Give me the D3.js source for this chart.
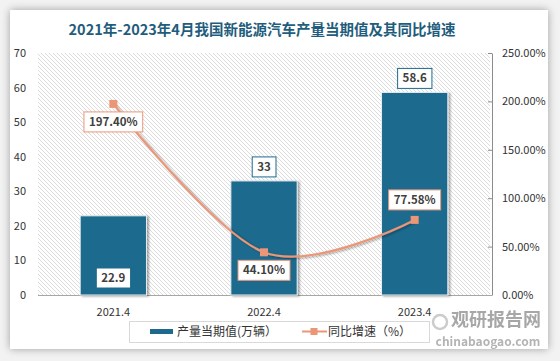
<!DOCTYPE html>
<html>
<head>
<meta charset="utf-8">
<script src="https://cdn.jsdelivr.net/npm/d3@7"></script>
<style>
  body { margin: 0; background: #fff; }
  svg { display: block; }
</style>
</head>
<body>
<svg id="main-svg" width="560" height="361"></svg>
<script>
// ----- //
// data
// ----- //
const categories = ["2021.4", "2022.4", "2023.4"];
const production = [22.9, 33, 58.6];      // 产量当期值(万辆)
const growth = [197.40, 44.10, 77.58];    // 同比增速(%)
const leftTicks = [0, 10, 20, 30, 40, 50, 60, 70];
const rightTicks = [0, 50, 100, 150, 200, 250];
const barLabelPlace = ["inside", "above", "above"];
const lineLabelPlace = ["below", "below", "above"];

const title = "2021年-2023年4月我国新能源汽车产量当期值及其同比增速";

// ----- //
// setup
// ----- //
const svg = d3.select("#main-svg");
const font = "'Noto Sans CJK SC', 'Noto Sans', sans-serif";
const barColor = "#1c6a8e";
const lineColor = "#eb9677";

const plot = { left: 38, right: 490, top: 53, bottom: 295 };

// card with soft shadow
const defs = svg.append("defs");
const shadow = defs.append("filter").attr("id", "shadow")
    .attr("x", "-5%").attr("y", "-5%").attr("width", "110%").attr("height", "110%");
shadow.append("feGaussianBlur").attr("in", "SourceAlpha").attr("stdDeviation", 4);
shadow.append("feComponentTransfer").append("feFuncA").attr("type", "linear").attr("slope", 0.35);
const merge = shadow.append("feMerge");
merge.append("feMergeNode");
merge.append("feMergeNode").attr("in", "SourceGraphic");

// hatch pattern for plot background
const hatch = defs.append("pattern").attr("id", "hatch")
    .attr("patternUnits", "userSpaceOnUse")
    .attr("width", 4).attr("height", 4);
hatch.append("rect").attr("width", 4).attr("height", 4).attr("fill", "#ffffff");
hatch.append("path")
    .attr("d", "M-1,-1 L5,5 M-1,3 L1,5 M3,-1 L5,1")
    .attr("stroke", "#dcdcdc").attr("stroke-width", 1);

// bar shadow
const barShadow = defs.append("filter").attr("id", "barShadow")
    .attr("x", "-10%").attr("y", "-10%").attr("width", "125%").attr("height", "120%");
barShadow.append("feDropShadow").attr("dx", 2).attr("dy", 1).attr("stdDeviation", 1.2)
    .attr("flood-color", "#000").attr("flood-opacity", 0.35);

svg.append("rect").attr("width", 560).attr("height", 361).attr("fill", "#f2f2f2");
svg.append("rect")
    .attr("x", 10).attr("y", 10).attr("width", 538).attr("height", 339)
    .attr("fill", "#fff").attr("filter", "url(#shadow)");

// title
svg.append("text")
    .attr("x", 262).attr("y", 35)
    .attr("text-anchor", "middle")
    .attr("font-family", font).attr("font-size", 14.5).attr("font-weight", "bold")
    .attr("fill", "#1f5d7c")
    .text(title);

// ----- //
// scales
// ----- //
const x = d3.scaleBand().domain(categories)
    .range([plot.left, plot.right]).paddingInner(0.56).paddingOuter(0.28);
const yL = d3.scaleLinear().domain([0, 70]).range([plot.bottom, plot.top]);
const yR = d3.scaleLinear().domain([0, 250]).range([plot.bottom, plot.top]);

// plot background
svg.append("rect")
    .attr("x", plot.left).attr("y", plot.top)
    .attr("width", plot.right - plot.left).attr("height", plot.bottom - plot.top)
    .attr("fill", "url(#hatch)");

// ----- //
// axes
// ----- //
const gL = svg.append("g").attr("transform", `translate(${plot.left - 12},0)`)
    .call(d3.axisLeft(yL).tickValues(leftTicks).tickSize(0).tickPadding(0));
gL.select(".domain").remove();
gL.selectAll("text").attr("font-family", font).attr("font-size", 11).attr("fill", "#333");

const gR = svg.append("g").attr("transform", `translate(${plot.right + 2},0)`)
    .call(d3.axisRight(yR).tickValues(rightTicks).tickSize(0).tickPadding(10)
        .tickFormat(d => d.toFixed(2) + "%"));
gR.select(".domain").attr("stroke", "#8c8c8c");
gR.selectAll(".tick line").attr("x2", -4).attr("stroke", "#8c8c8c");
gR.selectAll("text").attr("font-family", font).attr("font-size", 11).attr("fill", "#333");

const gX = svg.append("g").attr("transform", `translate(0,${plot.bottom})`)
    .call(d3.axisBottom(x).tickSize(0).tickPadding(13));
gX.select(".domain").attr("stroke", "#a6a6a6").attr("d", `M${plot.left},0.5H${plot.right + 2}`);
gX.selectAll("text").attr("font-family", font).attr("font-size", 11).attr("fill", "#333");

// ----- //
// bars
// ----- //
svg.append("g").selectAll("rect")
    .data(production)
    .join("rect")
    .attr("x", (d, i) => x(categories[i]))
    .attr("y", d => yL(d))
    .attr("width", x.bandwidth())
    .attr("height", d => plot.bottom - yL(d))
    .attr("fill", barColor)
    .attr("stroke", "#e8eef2").attr("stroke-width", 1)
    .attr("filter", "url(#barShadow)");

// ----- //
// line
// ----- //
const pts = growth.map((d, i) => [x(categories[i]) + x.bandwidth() / 2, yR(d)]);
svg.append("path")
    .attr("d", d3.line().curve(d3.curveCardinal.tension(0))(pts))
    .attr("fill", "none").attr("stroke", lineColor).attr("stroke-width", 2.2)
    .attr("filter", "url(#barShadow)");
svg.append("g").selectAll("rect")
    .data(pts)
    .join("rect")
    .attr("x", d => d[0] - 4).attr("y", d => d[1] - 4)
    .attr("width", 8).attr("height", 8)
    .attr("fill", lineColor);

// ----- //
// labels
// ----- //
function boxLabel(cx, cy, txt, stroke) {
    const g = svg.append("g");
    const t = g.append("text")
        .attr("x", cx).attr("y", cy + 4)
        .attr("text-anchor", "middle")
        .attr("font-family", font).attr("font-size", 11.5).attr("font-weight", "bold")
        .attr("fill", "#404040").text(txt);
    const bb = t.node().getBBox();
    g.insert("rect", "text")
        .attr("x", bb.x - 5).attr("y", cy - 10)
        .attr("width", bb.width + 10).attr("height", 20)
        .attr("fill", "#fff").attr("stroke", stroke).attr("stroke-width", 1);
}

production.forEach((d, i) => {
    const cx = x(categories[i]) + x.bandwidth() / 2;
    const cy = barLabelPlace[i] === "inside" ? plot.bottom - 17 : yL(d) - 14;
    boxLabel(cx, cy, String(d), barColor);
});

growth.forEach((d, i) => {
    const cy = lineLabelPlace[i] === "below" ? pts[i][1] + 18 : pts[i][1] - 20;
    boxLabel(pts[i][0], cy, d.toFixed(2) + "%", lineColor);
});

// ----- //
// legend
// ----- //
const lg = svg.append("g");
lg.append("rect").attr("x", 129.5).attr("y", 321.5).attr("width", 300).attr("height", 21)
    .attr("fill", "#fff").attr("stroke", "#d9d9d9");
lg.append("rect").attr("x", 150).attr("y", 329).attr("width", 23).attr("height", 5).attr("fill", barColor);
lg.append("text").attr("x", 177).attr("y", 336)
    .attr("font-family", font).attr("font-size", 12).attr("fill", "#333")
    .text("产量当期值(万辆）");
lg.append("line").attr("x1", 302).attr("x2", 327).attr("y1", 331.5).attr("y2", 331.5)
    .attr("stroke", lineColor).attr("stroke-width", 2);
lg.append("rect").attr("x", 310.5).attr("y", 328).attr("width", 7).attr("height", 7).attr("fill", lineColor);
lg.append("text").attr("x", 328).attr("y", 336)
    .attr("font-family", font).attr("font-size", 12).attr("fill", "#333")
    .text("同比增速（%）");

// ----- //
// watermark
// ----- //
const wm = svg.append("g").attr("opacity", 0.75);
wm.append("circle").attr("cx", 440).attr("cy", 322).attr("r", 7)
    .attr("fill", "none").attr("stroke", "#bbb").attr("stroke-width", 2.5);
wm.append("text").attr("x", 496).attr("y", 326).attr("text-anchor", "middle")
    .attr("font-family", font).attr("font-size", 18).attr("font-weight", "bold")
    .attr("fill", "#8a8a8a").text("观研报告网");
wm.append("text").attr("x", 488).attr("y", 346).attr("text-anchor", "middle")
    .attr("font-family", font).attr("font-size", 12).attr("font-weight", "bold")
    .attr("fill", "#9a9a9a").text("chinabaogao.com");
</script>
</body>
</html>
